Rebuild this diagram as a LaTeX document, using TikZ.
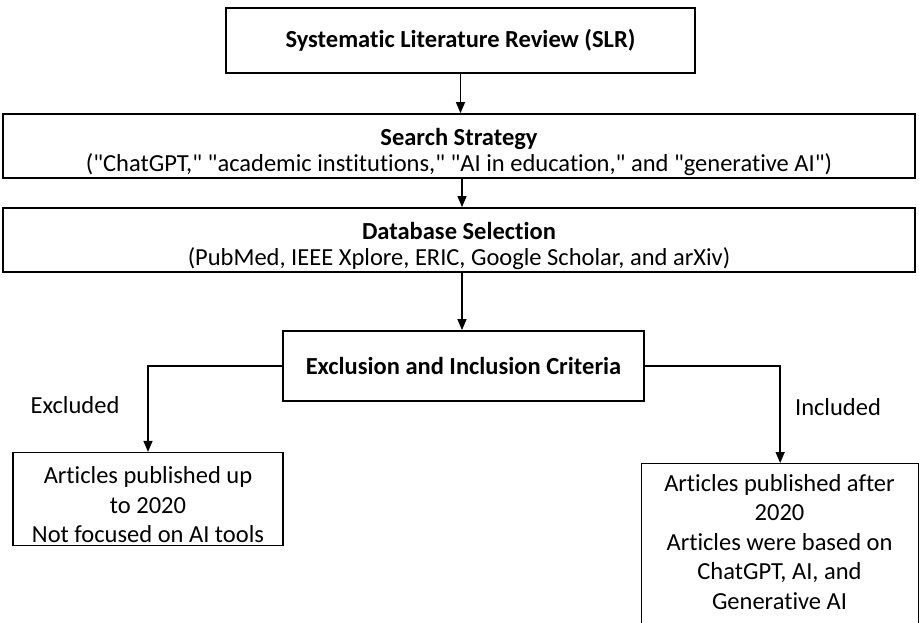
\documentclass[tikz,border=0pt]{standalone}
\usepackage{fontspec}
\setmainfont{Carlito}[Ligatures={TeXOff,NoCommon}]
\usetikzlibrary{arrows.meta}
\begin{document}
\begin{tikzpicture}[x=1pt,y=-1pt,
  every node/.style={font=\fontsize{24.5}{29.5}\selectfont, align=center, inner sep=0pt},
  twoline/.style={font=\fontsize{24.5}{26.5}\selectfont},
  bigbox/.style={draw, line width=1.8pt, minimum height=64pt},
  smallbox/.style={draw, line width=1.3pt},
  arr/.style={line width=1.4pt, -{Triangle[length=11pt,width=9pt]}}]
\useasboundingbox[fill=white] (0,0) rectangle (919,622);
\node[bigbox, minimum width=469pt, minimum height=65pt] (slr) at (460.5,40.5) {\textbf{Systematic Literature Review (SLR)}};
\node[bigbox, minimum width=912pt] (search) at (459,146) {};
\node[twoline] (searcht) at (459,152) {\textbf{Search Strategy}\\("ChatGPT," "academic institutions," "AI in education," and "generative AI")};
\node[bigbox, minimum width=912pt] (db) at (459,240) {};
\node[twoline] (dbt) at (459,246) {\textbf{Database Selection}\\(PubMed, IEEE Xplore, ERIC, Google Scholar, and arXiv)};
\node[bigbox, minimum width=361pt, minimum height=70pt] (crit) at (463.5,366) {\textbf{Exclusion and Inclusion Criteria}};
\node[smallbox, minimum width=270pt, minimum height=93pt] (exc) at (148,499) {};
\node (exct) at (148,505) {Articles published up\\to 2020\\Not focused on AI tools};
\node[smallbox, minimum width=277pt, minimum height=190pt, anchor=north west] (inc) at (641,463) {};
\node (inct) at (779.5,542) {Articles published after\\2020\\Articles were based on\\ChatGPT, AI, and\\Generative AI};
\node (exl) at (75,405) {Excluded};
\node (inl) at (838,407) {Included};
\draw[arr] (slr.south) -- (search.north -| slr.south);
\draw[arr] (search.south -| 462,0) -- (db.north -| 462,0);
\draw[arr] (db.south -| 462,0) -- (crit.north -| 462,0);
\draw[arr] (crit.west) -| (exc.north);
\draw[arr] (crit.east) -| (inc.north);
\end{tikzpicture}
\end{document}
